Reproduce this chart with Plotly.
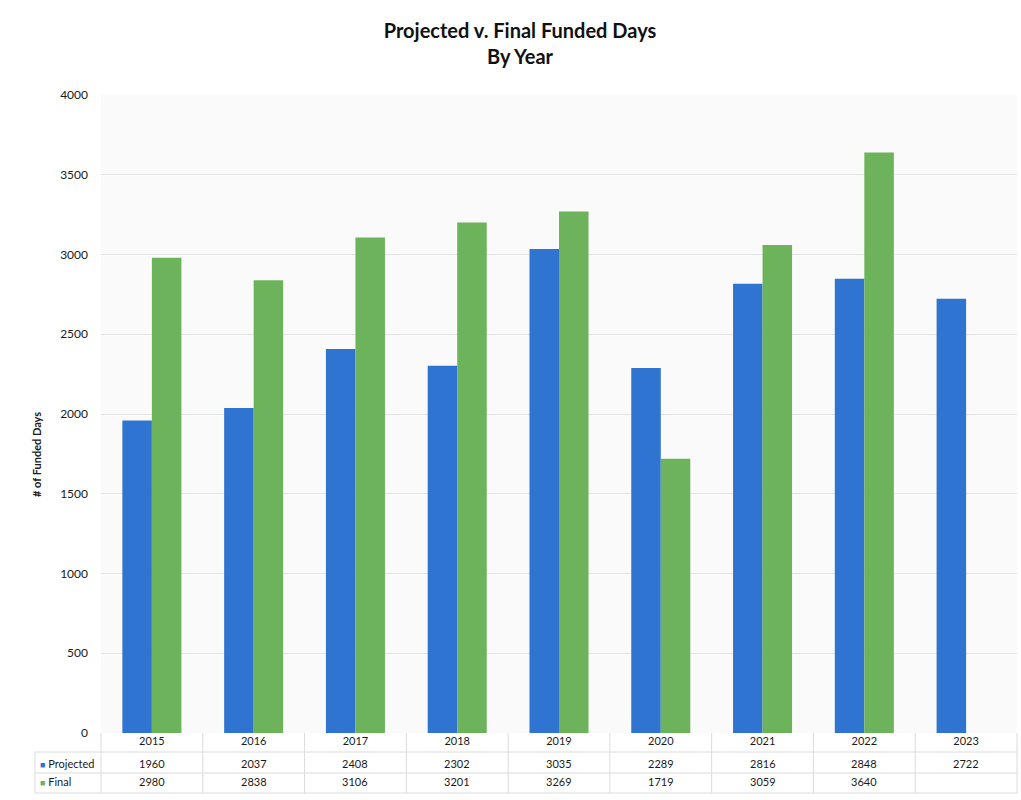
import plotly.graph_objects as go

years = ["2015", "2016", "2017", "2018", "2019", "2020", "2021", "2022", "2023"]
projected = [1960, 2037, 2408, 2302, 3035, 2289, 2816, 2848, 2722]
final = [2980, 2838, 3106, 3201, 3269, 1719, 3059, 3640, None]

BLUE = "#2f74d0"
GREEN = "#6db35c"
FONT = "Lato, Open Sans, sans-serif"

W, H = 1021, 800
ML, MR, MT, MB = 101, 4, 95, 67
PH = H - MT - MB
PW = W - ML - MR


def py(pix):
    return (H - MB - pix) / PH


def px(pix):
    return (pix - ML) / PW


fig = go.Figure()
fig.add_trace(go.Bar(x=years, y=projected, name="Projected", marker_color=BLUE,
                     marker_line_width=0))
fig.add_trace(go.Bar(x=years, y=final, name="Final", marker_color=GREEN,
                     marker_line_width=0))

annotations = []
shapes = []
grid = "#dcdcdc"

# data table rows
rows = [("Projected", projected, BLUE, 763), ("Final", final, GREEN, 782)]
for label, vals, col, ypix in rows:
    annotations.append(dict(
        x=px(38), y=py(ypix), xref="paper", yref="paper", xanchor="left", yanchor="middle",
        text=f"<span style='color:{col}; font-size:9px'>■</span> {label}", showarrow=False,
        font=dict(family=FONT, size=11, color="#1a1a1a")))
    for i, v in enumerate(vals):
        if v is None:
            continue
        annotations.append(dict(
            x=i, y=py(ypix), xref="x", yref="paper", xanchor="center", yanchor="middle",
            text=str(v), showarrow=False, font=dict(family=FONT, size=11, color="#1a1a1a")))

# horizontal table lines
for ypix in (752, 773, 793):
    shapes.append(dict(type="line", xref="paper", yref="paper", x0=px(35), x1=1,
                       y0=py(ypix), y1=py(ypix), line=dict(color=grid, width=1)))
# vertical table lines
for i in range(len(years) + 1):
    xp = i / len(years)
    shapes.append(dict(type="line", xref="paper", yref="paper", x0=xp, x1=xp,
                       y0=py(733), y1=py(793), line=dict(color=grid, width=1)))
shapes.append(dict(type="line", xref="paper", yref="paper", x0=px(35), x1=px(35),
                   y0=py(752), y1=py(793), line=dict(color=grid, width=1)))

# y-axis title
annotations.append(dict(
    x=px(36), y=py(455), xref="paper", yref="paper", textangle=-90,
    xanchor="center", yanchor="middle",
    text="<b># of Funded Days</b>", showarrow=False,
    font=dict(family=FONT, size=11, color="#1a1a1a")))

fig.update_layout(
    width=W, height=H,
    margin=dict(l=ML, r=MR, t=MT, b=MB, autoexpand=False),
    paper_bgcolor="white", plot_bgcolor="#fafafa",
    barmode="group", bargap=0.42, bargroupgap=0,
    showlegend=False,
    title=dict(text="<b>Projected v. Final Funded Days<br>By Year</b>",
               x=520 / W, xanchor="center", y=1 - 38 / H, yanchor="top",
               font=dict(family=FONT, size=20, color="#111")),
    xaxis=dict(type="category", range=[-0.5, len(years) - 0.5], showgrid=False,
               zeroline=False, ticks="",
               tickfont=dict(family=FONT, size=11, color="#1a1a1a"),
               showline=False),
    yaxis=dict(range=[0, 4000], dtick=500, tick0=0, showgrid=True, gridcolor="#e4e4e4",
               gridwidth=1, zeroline=False, ticks="", ticklabelstandoff=12,
               tickfont=dict(family=FONT, size=12, color="#1a1a1a")),
    annotations=annotations,
    shapes=shapes,
)

fig.write_html("out.html")
